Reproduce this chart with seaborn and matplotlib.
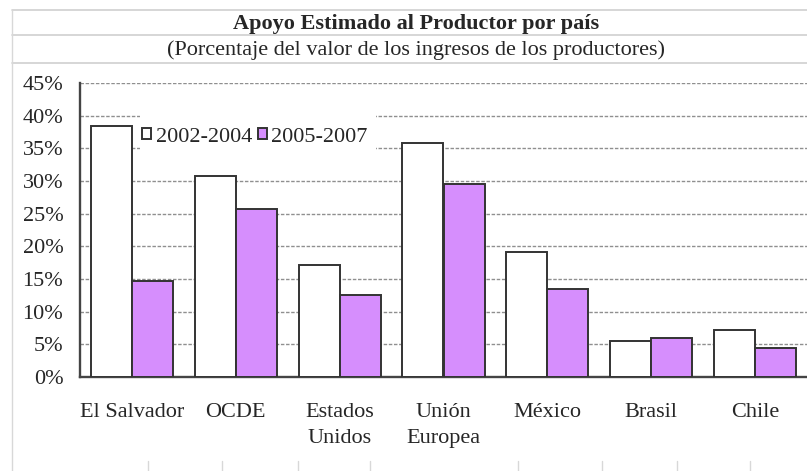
import pandas as pd
import matplotlib
matplotlib.use("Agg")
import matplotlib.pyplot as plt
import seaborn as sns
from matplotlib.lines import Line2D
from matplotlib.patches import Rectangle

# values (percent of producer income)
paises = ["El Salvador", "OCDE", "Estados\nUnidos", "Unión\nEuropea", "México", "Brasil", "Chile"]
periodo_1 = [38.4, 30.8, 17.1, 35.8, 19.2, 5.5, 7.2]
periodo_2 = [14.7, 25.7, 12.6, 29.5, 13.4, 5.9, 4.5]
periodos = ["2002-2004", "2005-2007"]
y_ticks = [0, 5, 10, 15, 20, 25, 30, 35, 40, 45]

df = pd.DataFrame({
    "pais": paises * 2,
    "valor": periodo_1 + periodo_2,
    "periodo": [periodos[0]] * len(paises) + [periodos[1]] * len(paises),
})

sns.set_style("white")
plt.rcParams["font.family"] = ["Liberation Serif", "DejaVu Serif"]
FS = 16

fig = plt.figure(figsize=(8.07, 4.71), dpi=100)
ax = fig.add_axes([80 / 807, 94 / 471, 1 - 80 / 807, 294 / 471])

sns.barplot(data=df, x="pais", y="valor", hue="periodo", hue_order=periodos,
            palette={periodos[0]: "white", periodos[1]: "#D68EFD"}, saturation=1,
            edgecolor="#333333", linewidth=1.4, width=0.79, gap=0,
            ax=ax, zorder=3)

ax.set_ylim(0, 45)
ax.set_xlim(-0.5, 6.38)
ax.set_yticks(y_ticks)
ax.set_yticklabels([f"{v}%" for v in y_ticks], fontsize=FS)
ax.set_xticks(range(len(paises)))
ax.set_xticklabels(paises, fontsize=FS, linespacing=1.45)
ax.set_xticks([i + 0.5 for i in range(len(paises))], minor=True)
ax.tick_params(axis="x", which="major", length=0, pad=19)
ax.tick_params(axis="x", which="minor", length=5, direction="out", color="#444444", width=1.2)
ax.tick_params(axis="y", length=6, direction="inout", color="#444444", width=1.2, pad=9)
ax.set_xlabel("")
ax.set_ylabel("")

ax.yaxis.grid(True, linestyle=(0, (2.5, 1.2)), color="#8f8f8f", linewidth=1.0, zorder=0)
ax.set_axisbelow(True)
for s in ["top", "right"]:
    ax.spines[s].set_visible(False)
for s in ["left", "bottom"]:
    ax.spines[s].set_color("#444444")
    ax.spines[s].set_linewidth(1.7)

# white box behind the legend, hiding the gridlines like the original
x0, x1 = (140 - 80) / 727, (376 - 80) / 727
y0, y1 = (377 - 153) / 294, (377 - 112) / 294
ax.add_patch(Rectangle((x0, y0), x1 - x0, y1 - y0, transform=ax.transAxes,
                       facecolor="white", edgecolor="none", zorder=2.5))

handles, labels = ax.get_legend_handles_labels()
leg = ax.legend(handles, labels, loc="center left", bbox_to_anchor=(0.085, (377 - 137) / 294),
                ncol=2, fontsize=FS, frameon=False,
                handlelength=0.42, handleheight=0.42, handletextpad=0.2,
                columnspacing=0.25, borderpad=0, borderaxespad=0)
leg.set_zorder(4)

fig.text(0.516, 1 - 29 / 471, "Apoyo Estimado al Productor por país", ha="center", va="baseline",
         fontsize=FS, fontweight="bold")
fig.text(0.516, 1 - 55 / 471, "(Porcentaje del valor de los ingresos de los productores)",
         ha="center", va="baseline", fontsize=FS)

# spreadsheet cell borders around the chart
for yy in [10, 35, 63]:
    fig.add_artist(Line2D([12 / 807, 1], [1 - yy / 471] * 2, color="#d0d0d0", lw=1.2))
fig.add_artist(Line2D([12 / 807] * 2, [0, 1 - 10 / 471], color="#d8d8d8", lw=1.0))
for xx in [148, 222, 298, 370, 518, 602, 677, 750]:
    fig.add_artist(Line2D([xx / 807] * 2, [0, 10 / 471], color="#d8d8d8", lw=1.0))

fig.savefig("out.png", dpi=100)
